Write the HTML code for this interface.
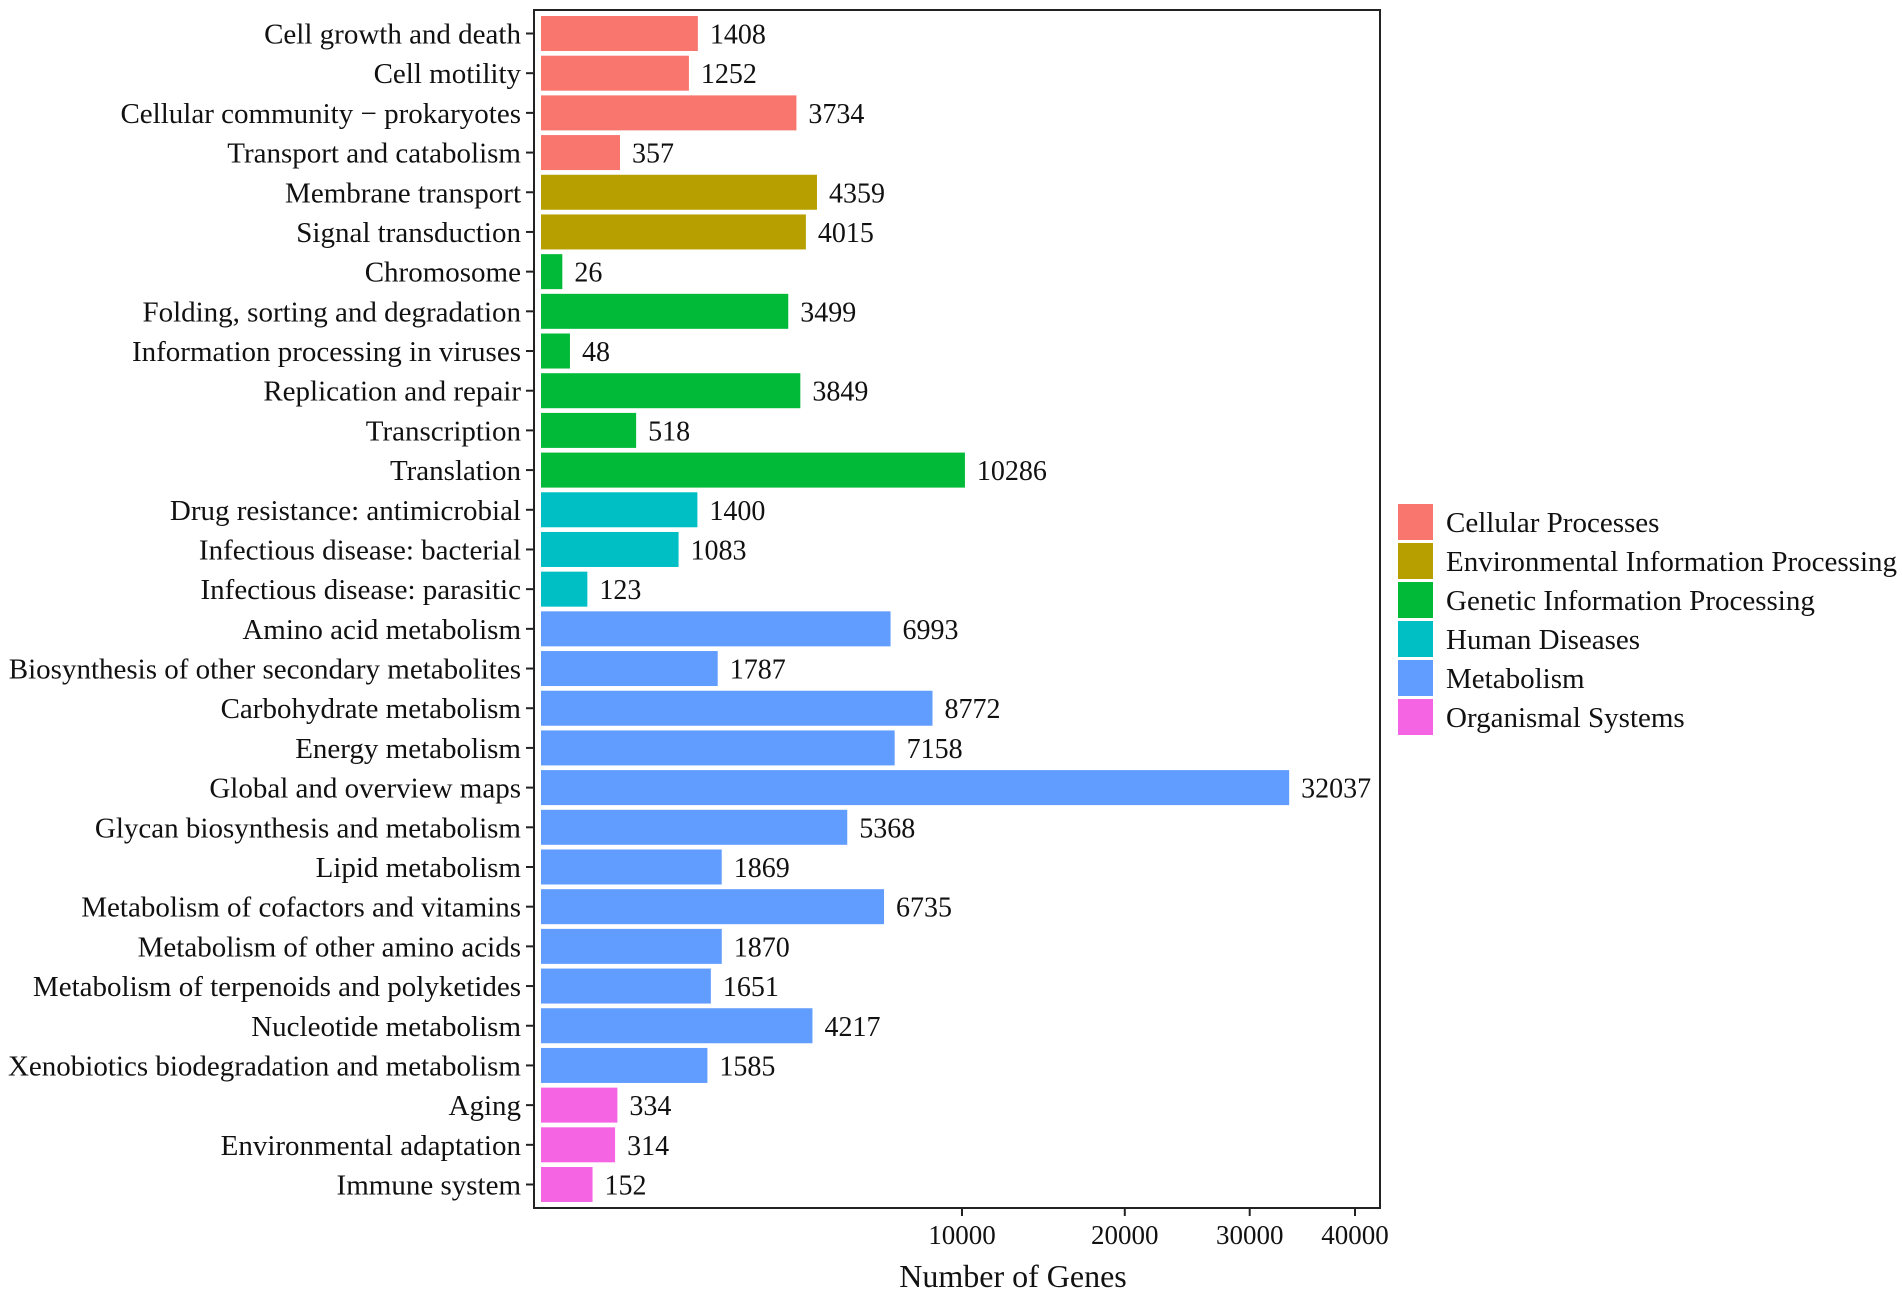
<!DOCTYPE html>
<html><head><meta charset="utf-8"><style>
html,body{margin:0;padding:0;background:#fff;}
svg{display:block;font-family:"Liberation Serif",serif;}
</style></head><body>
<svg id="chart" width="1902" height="1295" viewBox="0 0 1902 1295" xmlns="http://www.w3.org/2000/svg"></svg>
<script>
const categories = ["Cell growth and death","Cell motility","Cellular community \u2212 prokaryotes","Transport and catabolism","Membrane transport","Signal transduction","Chromosome","Folding, sorting and degradation","Information processing in viruses","Replication and repair","Transcription","Translation","Drug resistance: antimicrobial","Infectious disease: bacterial","Infectious disease: parasitic","Amino acid metabolism","Biosynthesis of other secondary metabolites","Carbohydrate metabolism","Energy metabolism","Global and overview maps","Glycan biosynthesis and metabolism","Lipid metabolism","Metabolism of cofactors and vitamins","Metabolism of other amino acids","Metabolism of terpenoids and polyketides","Nucleotide metabolism","Xenobiotics biodegradation and metabolism","Aging","Environmental adaptation","Immune system"];
const values = [1408,1252,3734,357,4359,4015,26,3499,48,3849,518,10286,1400,1083,123,6993,1787,8772,7158,32037,5368,1869,6735,1870,1651,4217,1585,334,314,152];
const groups = [0,0,0,0,1,1,2,2,2,2,2,2,3,3,3,4,4,4,4,4,4,4,4,4,4,4,4,5,5,5];
const groupNames = ["Cellular Processes","Environmental Information Processing","Genetic Information Processing","Human Diseases","Metabolism","Organismal Systems"];
const groupColors = ["#F8766D","#B79F00","#00BA38","#00BFC4","#619CFF","#F564E3"];
const tickValues = [10000,20000,30000,40000];

const svg = document.getElementById('chart');
const NS = 'http://www.w3.org/2000/svg';
function mk(tag, attrs, parent){const e=document.createElementNS(NS,tag);for(const k in attrs)e.setAttribute(k,attrs[k]);(parent||svg).appendChild(e);return e;}

const panelL=534, panelR=1380, panelT=10, panelB=1208;
const xScale = v => 541 + 4.18*Math.sqrt(v);
const tickScale = v => 569 + 3.93*Math.sqrt(v);
const pitch=39.69, barH=35, firstTop=16;
const yScale = i => firstTop + i*pitch;

const frame = mk('rect',{x:panelL,y:panelT,width:panelR-panelL,height:panelB-panelT,fill:'none',stroke:'#222','stroke-width':2});



categories.forEach((c,i)=>{
  const y=yScale(i), cy=y+barH/2;
  const r=mk('rect',{x:541,y:y,width:xScale(values[i])-541,height:barH,fill:groupColors[groups[i]]});
  
  
  const v=mk('text',{x:xScale(values[i])+12,y:cy+10,'font-size':28,fill:'#111'});
  v.textContent=values[i];
  
  
  const t=mk('line',{x1:526,x2:534,y1:cy,y2:cy,stroke:'#222','stroke-width':2});
  
  
  const l=mk('text',{x:521,y:cy+10,'font-size':29,'text-anchor':'end',fill:'#111'});
  l.textContent=c;
  
  
});

tickValues.forEach(tv=>{
  const x=tickScale(tv);
  const t=mk('line',{x1:x,x2:x,y1:panelB,y2:panelB+8,stroke:'#222','stroke-width':2});
  
  
  const l=mk('text',{x:x,y:1244,'font-size':27,'text-anchor':'middle',fill:'#111'});
  l.textContent=tv;
  
  
});

const xt=mk('text',{x:1013,y:1287,'font-size':32,'text-anchor':'middle',fill:'#111'});
xt.textContent='Number of Genes';



groupNames.forEach((g,i)=>{
  const y=504+i*39;
  const r=mk('rect',{x:1398,y:y,width:35,height:36,fill:groupColors[i]});
  
  
  const t=mk('text',{x:1446,y:y+28,'font-size':29,fill:'#111'});
  t.textContent=g;
  
  
});
</script>
</body></html>
